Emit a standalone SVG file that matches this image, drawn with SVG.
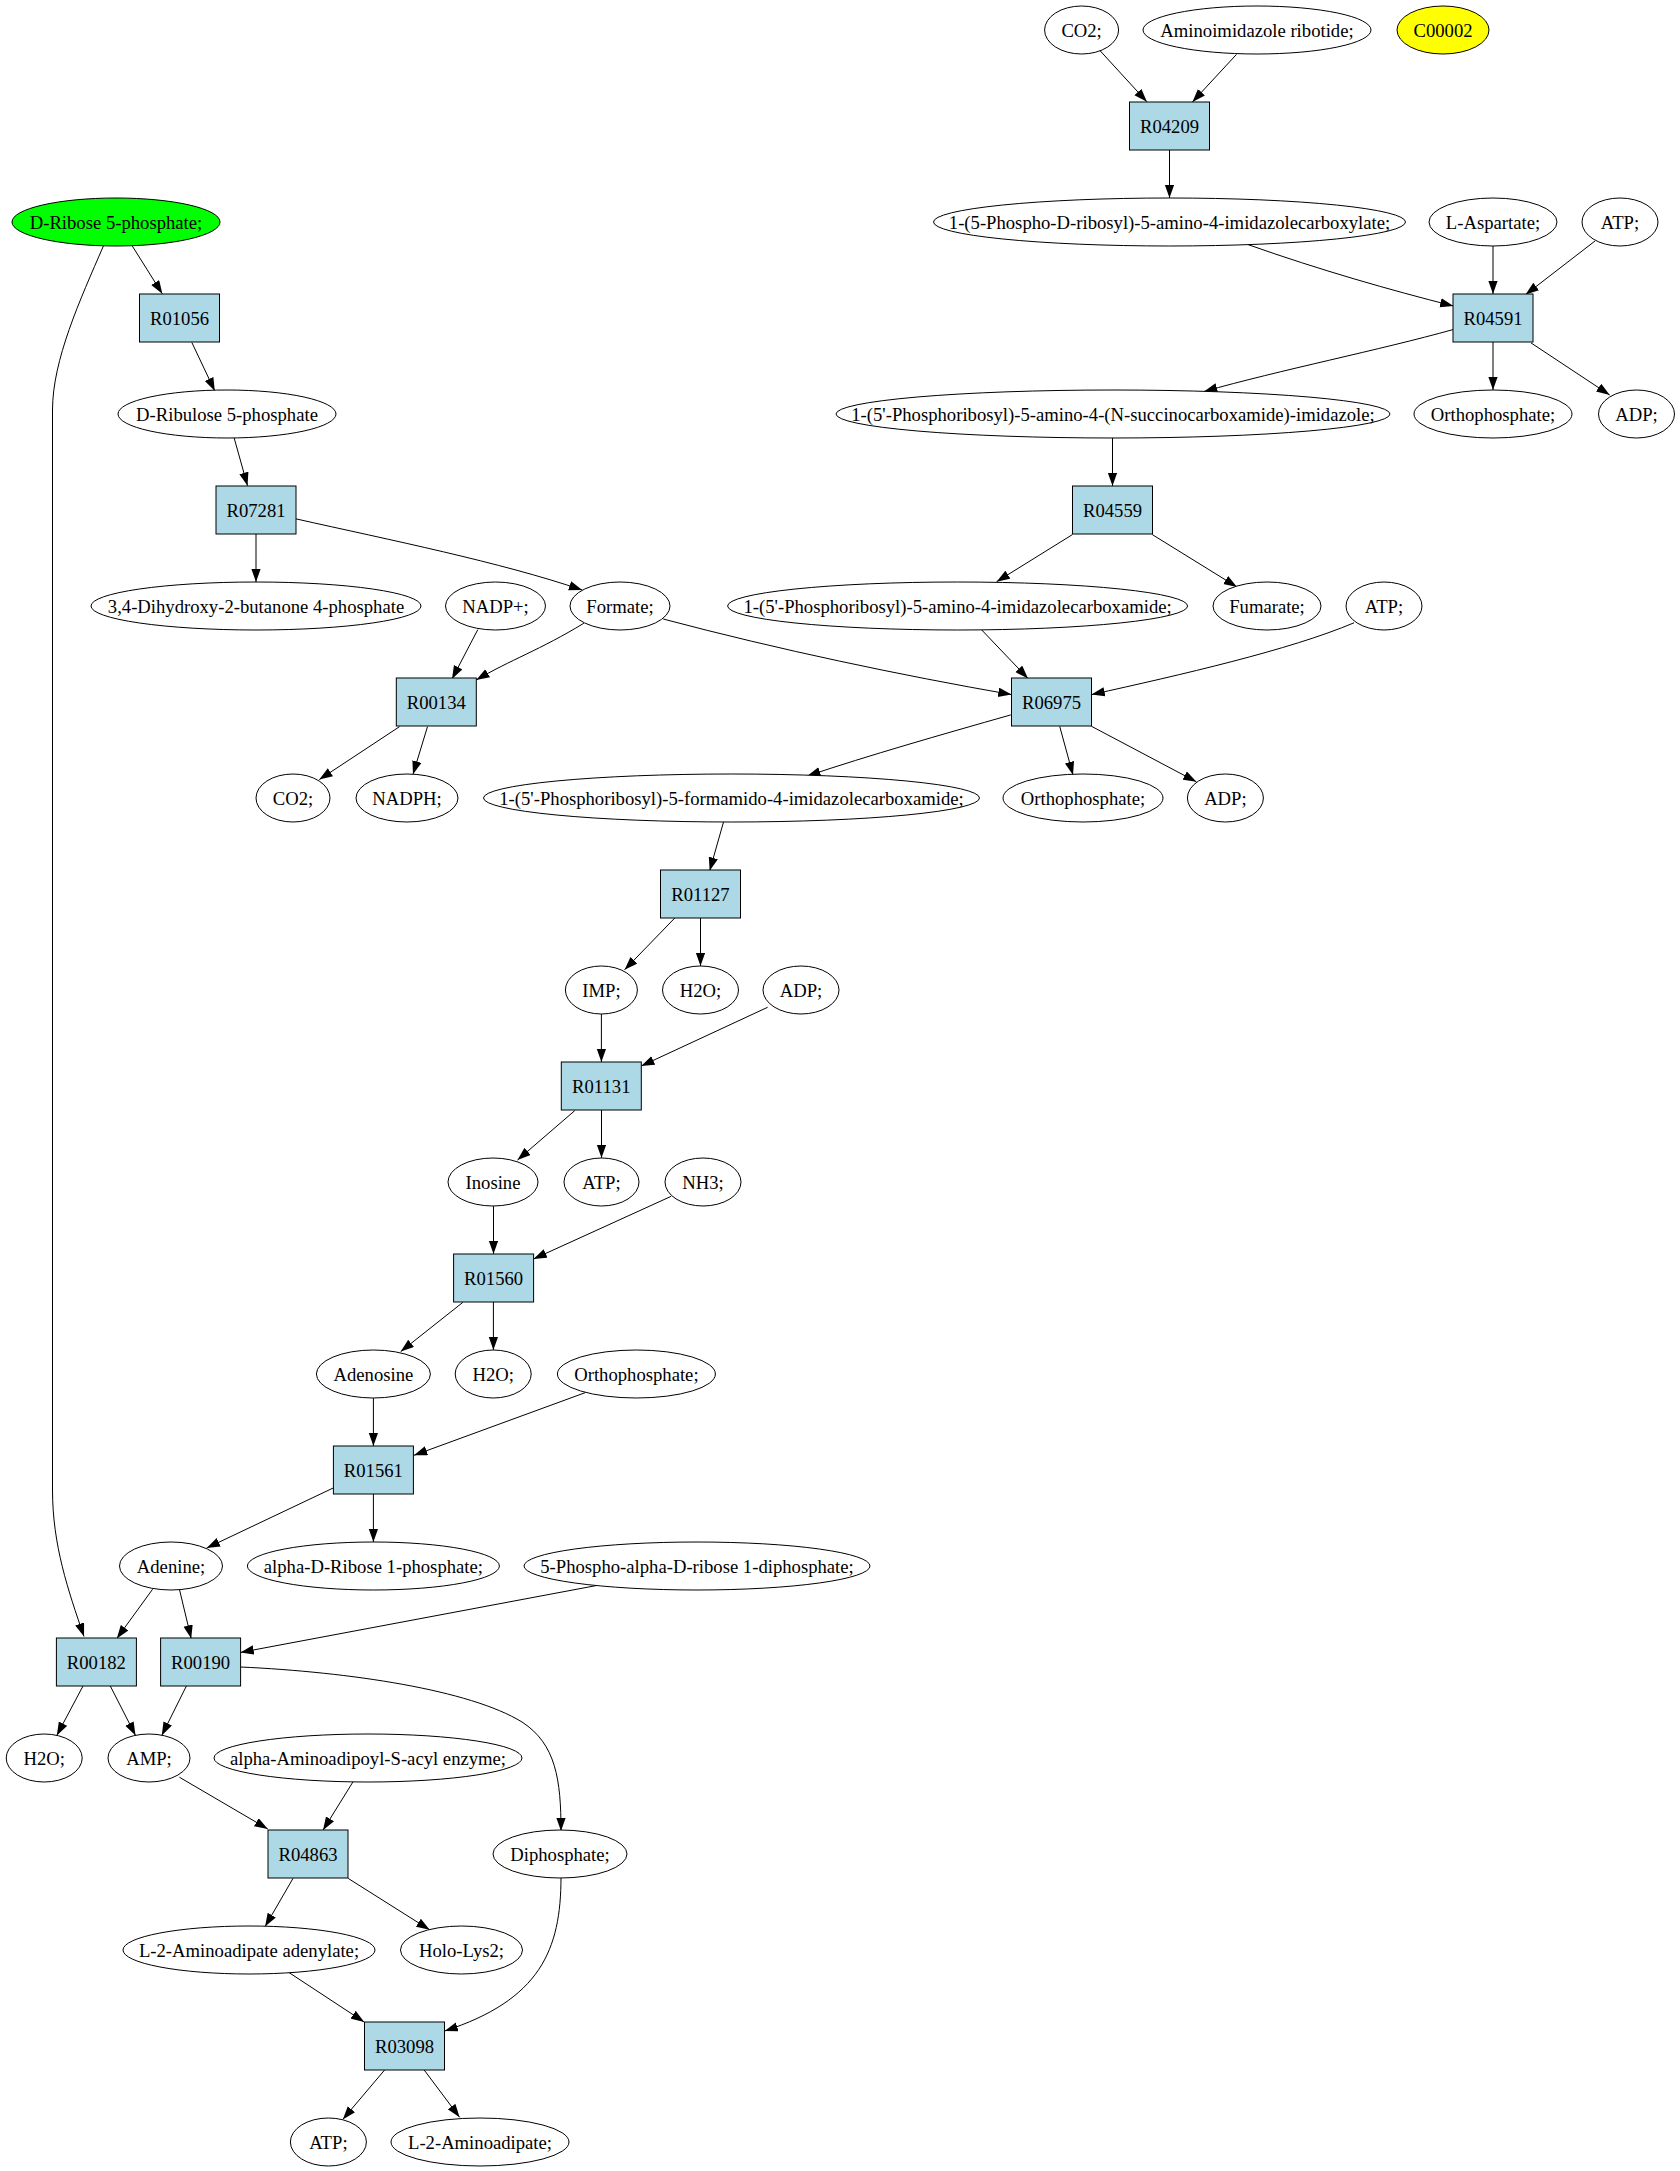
<svg xmlns="http://www.w3.org/2000/svg" width="1680" height="2171" viewBox="0 0 1680 2171">
<style>
.n ellipse{fill:#fff;stroke:#000;stroke-width:1}
.n rect{fill:#add8e6;stroke:#000;stroke-width:1}
.n text{font-family:"Liberation Serif","Times New Roman",serif;font-size:18.67px;text-anchor:middle;fill:#000}
.e path{fill:none;stroke:#000;stroke-width:1}
</style>
<defs>
<marker id="a" markerUnits="userSpaceOnUse" markerWidth="14" markerHeight="10" refX="13.3" refY="4.7" orient="auto" viewBox="0 0 14 10"><path d="M0,0 L13.3,4.7 L0,9.4 z" fill="#000"/></marker>
</defs>
<rect width="1680" height="2171" fill="#fff"/>
<g class="e">
<path marker-end="url(#a)" d="M1099.8,50.4 L1146.9,101.8"/>
<path marker-end="url(#a)" d="M1236.4,54.5 L1192.4,102"/>
<path marker-end="url(#a)" d="M1169.5,150 L1169.5,198"/>
<path marker-end="url(#a)" d="M1248,244.6 C1320,270 1390,290 1453.4,306"/>
<path marker-end="url(#a)" d="M1493,246 L1493,294"/>
<path marker-end="url(#a)" d="M1595,241 L1525.6,294.6"/>
<path marker-end="url(#a)" d="M1453.3,329.5 C1380,350 1280,370 1204,391.5"/>
<path marker-end="url(#a)" d="M1493,342 L1493,390"/>
<path marker-end="url(#a)" d="M1531,342.9 L1609.7,395"/>
<path marker-end="url(#a)" d="M1112.5,438 L1112.5,486"/>
<path marker-end="url(#a)" d="M1072.4,534.6 L996.6,581.7"/>
<path marker-end="url(#a)" d="M1152.3,534.6 L1237,587"/>
<path marker-end="url(#a)" d="M981.3,629.5 L1028,678.5"/>
<path marker-end="url(#a)" d="M663.2,619 C780,650 900,675 1011.5,694.6"/>
<path marker-end="url(#a)" d="M1354,622.8 C1290,650 1180,675 1091.5,694.6"/>
<path marker-end="url(#a)" d="M1010.8,714.9 C940,735 870,755 807.2,776"/>
<path marker-end="url(#a)" d="M1059.7,726.3 L1073,775"/>
<path marker-end="url(#a)" d="M1091.5,726.3 L1196.4,781.8"/>
<path marker-end="url(#a)" d="M256,534 L256,582"/>
<path marker-end="url(#a)" d="M295.7,518.8 C390,540 500,562 582.2,590"/>
<path marker-end="url(#a)" d="M132.3,246 L162.3,293.8"/>
<path marker-end="url(#a)" d="M191.8,342.4 L214.8,391"/>
<path marker-end="url(#a)" d="M234,437.5 L247.5,485.7"/>
<path marker-end="url(#a)" d="M103.4,246 C80,300 52.5,360 52.5,410 L52.5,1490 C52.5,1545 68,1590 84,1636.5"/>
<path marker-end="url(#a)" d="M477.8,629.6 L452,679"/>
<path marker-end="url(#a)" d="M583.9,623.2 C540,650 510,660 476.2,680"/>
<path marker-end="url(#a)" d="M399.6,726.6 L319.3,779.6"/>
<path marker-end="url(#a)" d="M427.5,726.6 L413,774.3"/>
<path marker-end="url(#a)" d="M723.7,821.4 L709.7,870.7"/>
<path marker-end="url(#a)" d="M675,917.8 L624.6,969.8"/>
<path marker-end="url(#a)" d="M700.5,918 L700.5,966"/>
<path marker-end="url(#a)" d="M601.4,1014 L601.4,1062"/>
<path marker-end="url(#a)" d="M767.6,1007.3 L641.2,1066"/>
<path marker-end="url(#a)" d="M574.8,1110.6 L517.5,1160"/>
<path marker-end="url(#a)" d="M601.5,1110 L601.5,1158"/>
<path marker-end="url(#a)" d="M493.5,1206 L493.5,1254"/>
<path marker-end="url(#a)" d="M671.2,1196.3 L533.5,1259"/>
<path marker-end="url(#a)" d="M462.8,1302.4 L400.7,1351.6"/>
<path marker-end="url(#a)" d="M493.4,1302 L493.4,1350"/>
<path marker-end="url(#a)" d="M373.4,1398 L373.4,1446"/>
<path marker-end="url(#a)" d="M585.4,1392.6 L414,1455.3"/>
<path marker-end="url(#a)" d="M333.2,1488 L206.7,1548"/>
<path marker-end="url(#a)" d="M373.4,1494 L373.4,1542"/>
<path marker-end="url(#a)" d="M152.6,1589.2 L116.8,1638.5"/>
<path marker-end="url(#a)" d="M179.4,1589.2 L191.2,1638.5"/>
<path marker-end="url(#a)" d="M597.2,1585.4 L240.5,1652.4"/>
<path marker-end="url(#a)" d="M83,1686 L56.8,1735.4"/>
<path marker-end="url(#a)" d="M110.3,1686 L135.5,1735.4"/>
<path marker-end="url(#a)" d="M186.4,1686 L161.8,1735.4"/>
<path marker-end="url(#a)" d="M240.5,1667 C350,1672 470,1690 522,1722 C556,1744 561,1780 561,1831"/>
<path marker-end="url(#a)" d="M179.4,1777.2 L267.8,1829"/>
<path marker-end="url(#a)" d="M353.5,1781 L323,1830.2"/>
<path marker-end="url(#a)" d="M293,1878.4 L265.1,1926.6"/>
<path marker-end="url(#a)" d="M348.2,1878.4 L429.6,1929.8"/>
<path marker-end="url(#a)" d="M289.2,1972.7 L364.2,2022"/>
<path marker-end="url(#a)" d="M561,1877 C561,1950 540,2000 444.6,2031"/>
<path marker-end="url(#a)" d="M384.6,2070 L342.8,2119.4"/>
<path marker-end="url(#a)" d="M424.2,2070 L459.6,2117.3"/>
</g>
<g id="CO2_a" class="n"><ellipse cx="1081.6" cy="30" rx="37" ry="24"/><text x="1081.6" y="37">CO2;</text></g>
<g id="AIR" class="n"><ellipse cx="1257" cy="30" rx="114" ry="24"/><text x="1257" y="37">Aminoimidazole ribotide;</text></g>
<g id="C00002" class="n"><ellipse cx="1443" cy="30" rx="46" ry="24" style="fill:#ffff00"/><text x="1443" y="37">C00002</text></g>
<g id="R04209" class="n"><rect x="1129.5" y="102" width="80" height="48"/><text x="1169.5" y="133">R04209</text></g>
<g id="DR5P" class="n"><ellipse cx="116" cy="222" rx="104" ry="24" style="fill:#00ff00"/><text x="116" y="229">D-Ribose 5-phosphate;</text></g>
<g id="CAIR" class="n"><ellipse cx="1169.5" cy="222" rx="236" ry="24"/><text x="1169.5" y="229">1-(5-Phospho-D-ribosyl)-5-amino-4-imidazolecarboxylate;</text></g>
<g id="Asp" class="n"><ellipse cx="1493" cy="222" rx="64" ry="24"/><text x="1493" y="229">L-Aspartate;</text></g>
<g id="ATP_a" class="n"><ellipse cx="1620" cy="222" rx="38" ry="24"/><text x="1620" y="229">ATP;</text></g>
<g id="R01056" class="n"><rect x="139.5" y="294" width="80" height="48"/><text x="179.5" y="325">R01056</text></g>
<g id="R04591" class="n"><rect x="1453" y="294" width="80" height="48"/><text x="1493" y="325">R04591</text></g>
<g id="Ru5P" class="n"><ellipse cx="227" cy="414" rx="109" ry="24"/><text x="227" y="421">D-Ribulose 5-phosphate</text></g>
<g id="SAICAR" class="n"><ellipse cx="1113" cy="414" rx="277" ry="24"/><text x="1113" y="421">1-(5'-Phosphoribosyl)-5-amino-4-(N-succinocarboxamide)-imidazole;</text></g>
<g id="Pi_a" class="n"><ellipse cx="1493" cy="414" rx="79" ry="24"/><text x="1493" y="421">Orthophosphate;</text></g>
<g id="ADP_a" class="n"><ellipse cx="1636.5" cy="414" rx="38" ry="24"/><text x="1636.5" y="421">ADP;</text></g>
<g id="R07281" class="n"><rect x="216" y="486" width="80" height="48"/><text x="256" y="517">R07281</text></g>
<g id="R04559" class="n"><rect x="1072.5" y="486" width="80" height="48"/><text x="1112.5" y="517">R04559</text></g>
<g id="DHBP" class="n"><ellipse cx="256" cy="606" rx="165" ry="24"/><text x="256" y="613">3,4-Dihydroxy-2-butanone 4-phosphate</text></g>
<g id="NADP" class="n"><ellipse cx="495.5" cy="606" rx="50" ry="24"/><text x="495.5" y="613">NADP+;</text></g>
<g id="Formate" class="n"><ellipse cx="620" cy="606" rx="50" ry="24"/><text x="620" y="613">Formate;</text></g>
<g id="AICAR" class="n"><ellipse cx="957.6" cy="606" rx="230" ry="24"/><text x="957.6" y="613">1-(5'-Phosphoribosyl)-5-amino-4-imidazolecarboxamide;</text></g>
<g id="Fumarate" class="n"><ellipse cx="1267" cy="606" rx="54" ry="24"/><text x="1267" y="613">Fumarate;</text></g>
<g id="ATP_b" class="n"><ellipse cx="1384" cy="606" rx="38" ry="24"/><text x="1384" y="613">ATP;</text></g>
<g id="R00134" class="n"><rect x="396.3" y="678" width="80" height="48"/><text x="436.3" y="709">R00134</text></g>
<g id="R06975" class="n"><rect x="1011.5" y="678" width="80" height="48"/><text x="1051.5" y="709">R06975</text></g>
<g id="CO2_b" class="n"><ellipse cx="293" cy="798" rx="37" ry="24"/><text x="293" y="805">CO2;</text></g>
<g id="NADPH" class="n"><ellipse cx="407" cy="798" rx="51" ry="24"/><text x="407" y="805">NADPH;</text></g>
<g id="FAICAR" class="n"><ellipse cx="731.5" cy="798" rx="248" ry="24"/><text x="731.5" y="805">1-(5'-Phosphoribosyl)-5-formamido-4-imidazolecarboxamide;</text></g>
<g id="Pi_b" class="n"><ellipse cx="1083" cy="798" rx="80" ry="24"/><text x="1083" y="805">Orthophosphate;</text></g>
<g id="ADP_b" class="n"><ellipse cx="1225.4" cy="798" rx="38" ry="24"/><text x="1225.4" y="805">ADP;</text></g>
<g id="R01127" class="n"><rect x="660.5" y="870" width="80" height="48"/><text x="700.5" y="901">R01127</text></g>
<g id="IMP" class="n"><ellipse cx="601.4" cy="990" rx="36" ry="24"/><text x="601.4" y="997">IMP;</text></g>
<g id="H2O_a" class="n"><ellipse cx="700.5" cy="990" rx="38" ry="24"/><text x="700.5" y="997">H2O;</text></g>
<g id="ADP_c" class="n"><ellipse cx="801" cy="990" rx="38" ry="24"/><text x="801" y="997">ADP;</text></g>
<g id="R01131" class="n"><rect x="561.3" y="1062" width="80" height="48"/><text x="601.3" y="1093">R01131</text></g>
<g id="Inosine" class="n"><ellipse cx="493" cy="1182" rx="45" ry="24"/><text x="493" y="1189">Inosine</text></g>
<g id="ATP_c" class="n"><ellipse cx="601.5" cy="1182" rx="37.5" ry="24"/><text x="601.5" y="1189">ATP;</text></g>
<g id="NH3" class="n"><ellipse cx="703" cy="1182" rx="38" ry="24"/><text x="703" y="1189">NH3;</text></g>
<g id="R01560" class="n"><rect x="453.6" y="1254" width="80" height="48"/><text x="493.6" y="1285">R01560</text></g>
<g id="Adenosine" class="n"><ellipse cx="373.4" cy="1374" rx="57" ry="24"/><text x="373.4" y="1381">Adenosine</text></g>
<g id="H2O_b" class="n"><ellipse cx="493.2" cy="1374" rx="38" ry="24"/><text x="493.2" y="1381">H2O;</text></g>
<g id="Pi_c" class="n"><ellipse cx="636.4" cy="1374" rx="79" ry="24"/><text x="636.4" y="1381">Orthophosphate;</text></g>
<g id="R01561" class="n"><rect x="333.4" y="1446" width="80" height="48"/><text x="373.4" y="1477">R01561</text></g>
<g id="Adenine" class="n"><ellipse cx="171" cy="1566" rx="51.5" ry="24"/><text x="171" y="1573">Adenine;</text></g>
<g id="R1P" class="n"><ellipse cx="373.4" cy="1566" rx="126" ry="24"/><text x="373.4" y="1573">alpha-D-Ribose 1-phosphate;</text></g>
<g id="PRPP" class="n"><ellipse cx="697" cy="1566" rx="173" ry="24"/><text x="697" y="1573">5-Phospho-alpha-D-ribose 1-diphosphate;</text></g>
<g id="R00182" class="n"><rect x="56.4" y="1638" width="80" height="48"/><text x="96.4" y="1669">R00182</text></g>
<g id="R00190" class="n"><rect x="160.6" y="1638" width="80" height="48"/><text x="200.6" y="1669">R00190</text></g>
<g id="H2O_c" class="n"><ellipse cx="44.2" cy="1758" rx="38" ry="24"/><text x="44.2" y="1765">H2O;</text></g>
<g id="AMP" class="n"><ellipse cx="149" cy="1758" rx="41" ry="24"/><text x="149" y="1765">AMP;</text></g>
<g id="AASAE" class="n"><ellipse cx="368" cy="1758" rx="154" ry="24"/><text x="368" y="1765">alpha-Aminoadipoyl-S-acyl enzyme;</text></g>
<g id="R04863" class="n"><rect x="268" y="1830" width="80" height="48"/><text x="308" y="1861">R04863</text></g>
<g id="Diphosphate" class="n"><ellipse cx="560" cy="1854" rx="67" ry="24"/><text x="560" y="1861">Diphosphate;</text></g>
<g id="L2AAad" class="n"><ellipse cx="249" cy="1950" rx="126" ry="24"/><text x="249" y="1957">L-2-Aminoadipate adenylate;</text></g>
<g id="HoloLys2" class="n"><ellipse cx="461.5" cy="1950" rx="61" ry="24"/><text x="461.5" y="1957">Holo-Lys2;</text></g>
<g id="R03098" class="n"><rect x="364.5" y="2022" width="80" height="48"/><text x="404.5" y="2053">R03098</text></g>
<g id="ATP_d" class="n"><ellipse cx="328.4" cy="2142" rx="38" ry="24"/><text x="328.4" y="2149">ATP;</text></g>
<g id="L2AA" class="n"><ellipse cx="480" cy="2142" rx="89" ry="24"/><text x="480" y="2149">L-2-Aminoadipate;</text></g>
</svg>
